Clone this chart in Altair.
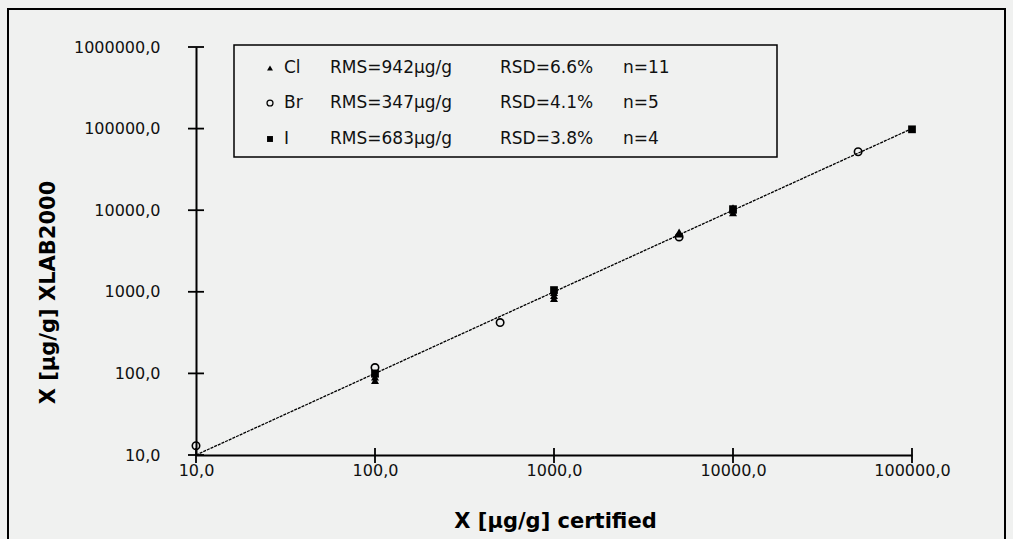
import altair as alt
import pandas as pd

# ---- data ----
cl_x = [100, 100, 100, 1000, 1000, 1000, 5000, 5000, 10000, 10000, 10000]
cl_y = [82, 90, 98, 830, 900, 980, 5100, 5400, 9300, 10000, 10700]
br_x = [10, 100, 500, 5000, 50000]
br_y = [13, 118, 420, 4700, 52000]
i_x = [100, 1000, 10000, 100000]
i_y = [100, 1050, 10300, 98000]
line_x = [10, 100000]
line_y = [10, 100000]
x_ticks = [10, 100, 1000, 10000, 100000]
y_ticks = [10, 100, 1000, 10000, 100000, 1000000]
x_domain = [10, 100000]
y_domain = [10, 1000000]

legend_names = ["Cl", "Br", "I"]
legend_rms = ["RMS=942µg/g", "RMS=347µg/g", "RMS=683µg/g"]
legend_rsd = ["RSD=6.6%", "RSD=4.1%", "RSD=3.8%"]
legend_n = ["n=11", "n=5", "n=4"]
legend_shapes = ["triangle-up", "circle", "square"]
legend_filled = [True, False, True]

W, H = 716, 408
FONT = "DejaVu Sans"
LBL = "replace(format(datum.value, '.1f'), '.', ',')"

xs = alt.Scale(type="log", domain=x_domain, nice=False)
ys = alt.Scale(type="log", domain=y_domain, nice=False)

xaxis = alt.Axis(values=x_ticks, labelExpr=LBL, grid=False, tickSize=0,
                 domainColor="black", domainWidth=2, labelColor="#111111",
                 labelFont=FONT, labelFontSize=16, labelPadding=7,
                 title="X [µg/g] certified", titleFont=FONT, titleFontSize=21,
                 titleFontWeight="bold", titleColor="black",
                 titleX=359, titleY=66, titleAlign="center", titleBaseline="middle",
                 labelFlush=False, labelOverlap=False)
yaxis = alt.Axis(values=y_ticks, labelExpr=LBL, grid=False, tickSize=0,
                 domainColor="black", domainWidth=2, labelColor="#111111",
                 labelFont=FONT, labelFontSize=16, labelPadding=36,
                 title="X [µg/g] XLAB2000", titleFont=FONT, titleFontSize=21,
                 titleFontWeight="bold", titleColor="black",
                 titleX=-148, titleY=245, titleAngle=-90, titleAlign="center",
                 titleBaseline="middle", labelFlush=False, labelOverlap=False)


def X(f):
    return alt.X(f, type="quantitative", scale=xs, axis=xaxis)


def Y(f):
    return alt.Y(f, type="quantitative", scale=ys, axis=yaxis)


one = pd.DataFrame({"a": [0]})

# outer frame (outline only; the grey comes from the chart background)
frame = alt.Chart(one).mark_rect(fillOpacity=0, stroke="black", strokeWidth=2).encode(
    x=alt.value(-188), x2=alt.value(809), y=alt.value(-38), y2=alt.value(500))

# identity line
line = alt.Chart(pd.DataFrame({"x": line_x, "y": line_y})).mark_line(
    color="black", strokeWidth=1.3, strokeDash=[3, 1]).encode(x=X("x"), y=Y("y"))

# tick marks crossing the axes
yt = alt.Chart(pd.DataFrame({"yt": y_ticks})).mark_rule(
    color="black", strokeWidth=1.8).encode(
    y=Y("yt"), x=alt.value(-8), x2=alt.value(8))
xt = alt.Chart(pd.DataFrame({"xt": x_ticks})).mark_rule(
    color="black", strokeWidth=1.8).encode(
    x=X("xt"), y=alt.value(H - 7), y2=alt.value(H + 8))

cl = alt.Chart(pd.DataFrame({"x": cl_x, "y": cl_y})).mark_point(
    shape="triangle-up", filled=True, color="black", size=65, opacity=1).encode(
    x=X("x"), y=Y("y"))
br = alt.Chart(pd.DataFrame({"x": br_x, "y": br_y})).mark_point(
    shape="circle", filled=False, color="black", size=55, strokeWidth=1.6, opacity=1).encode(
    x=X("x"), y=Y("y"))
io = alt.Chart(pd.DataFrame({"x": i_x, "y": i_y})).mark_point(
    shape="square", filled=True, color="black", size=60, opacity=1).encode(
    x=X("x"), y=Y("y"))

# legend box
box = alt.Chart(one).mark_rect(fillOpacity=0, stroke="black", strokeWidth=1.5).encode(
    x=alt.value(38), x2=alt.value(581), y=alt.value(-2), y2=alt.value(110))

legend_layers = []
row_y = [21, 56, 92]
for k in range(3):
    sym = alt.Chart(one).mark_point(
        shape=legend_shapes[k], filled=legend_filled[k], color="black",
        size=35, strokeWidth=1.3, opacity=1).encode(
        x=alt.value(74), y=alt.value(row_y[k]))
    legend_layers.append(sym)
    for colx, txt in zip([88, 134, 304, 427],
                         [legend_names[k], legend_rms[k], legend_rsd[k], legend_n[k]]):
        t = alt.Chart(one).mark_text(
            align="left", baseline="middle", font=FONT, fontSize=17, color="#111111").encode(
            x=alt.value(colx), y=alt.value(row_y[k]), text=alt.value(txt))
        legend_layers.append(t)

chart = alt.layer(frame, line, yt, xt, br, cl, io, box, *legend_layers).properties(
    width=W, height=H,
    autosize=alt.AutoSizeParams(type="none"),
    padding={"left": 196, "top": 47, "right": 101, "bottom": 84},
    background="#f0f1f0",
).configure_view(stroke=None)

chart.save("out.html", embed_options={"renderer": "svg", "actions": False})
